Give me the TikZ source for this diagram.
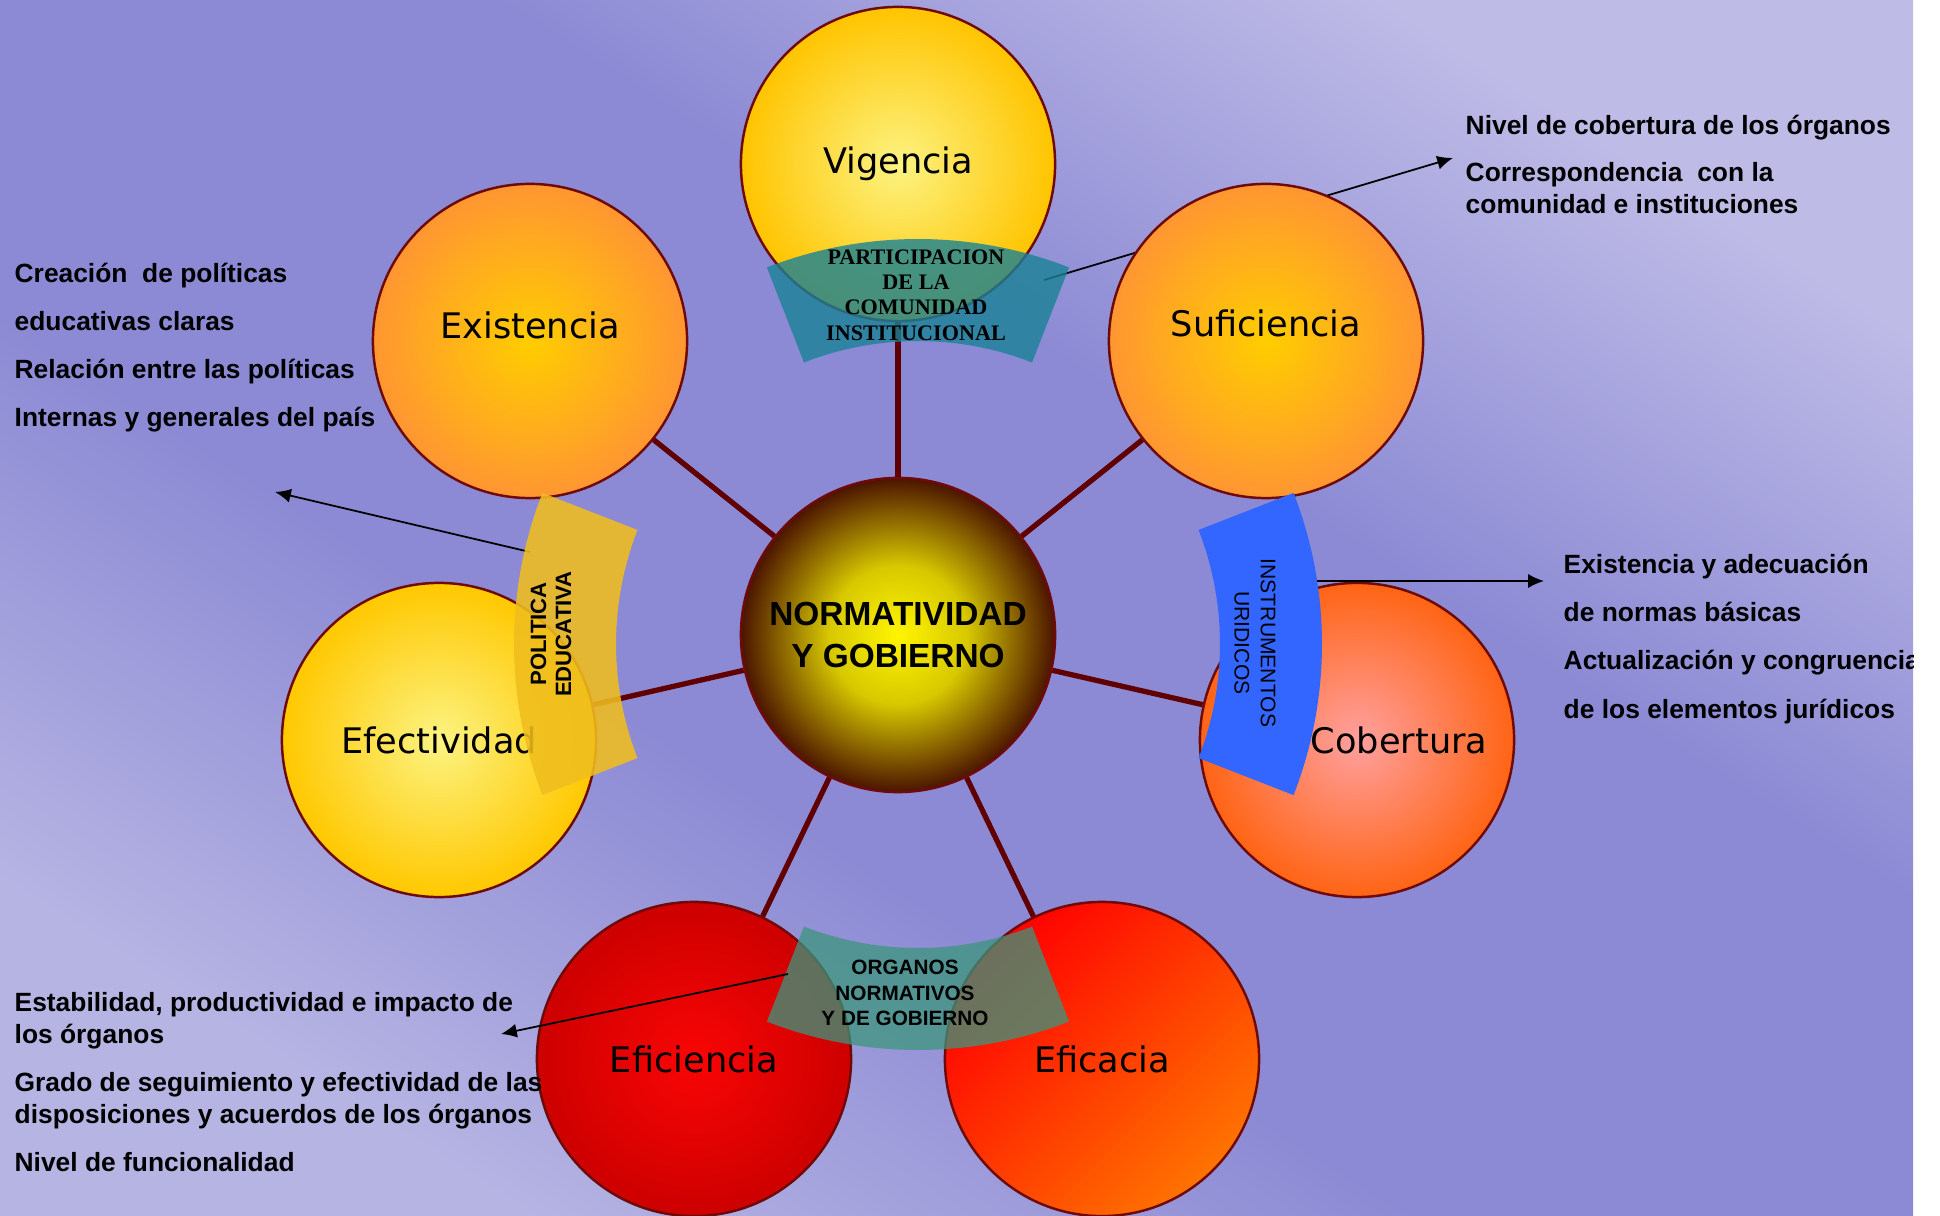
\documentclass[tikz,border=0pt]{standalone}
\usepackage{fontspec}
\setmainfont{Liberation Sans}
\newfontfamily\orbfont{DejaVu Sans}
\newfontfamily\bookfont{Liberation Serif}
\usetikzlibrary{arrows.meta}

\definecolor{slidelight}{RGB}{190,187,231}
\definecolor{slidelow}{RGB}{182,180,227}
\definecolor{slidedark}{RGB}{140,138,212}
\definecolor{spokered}{RGB}{96,0,0}
\definecolor{rim}{RGB}{110,10,10}
\definecolor{tealband}{RGB}{25,130,150}
\definecolor{seaband}{RGB}{60,150,125}
\definecolor{goldband}{RGB}{240,190,30}
\definecolor{blueband}{RGB}{51,102,255}
\definecolor{coreIn}{RGB}{255,245,0}
\definecolor{coreMid}{RGB}{215,200,0}
\definecolor{coreOut}{RGB}{75,20,0}

\pgfdeclareradialshading{corefill}{\pgfpointorigin}{color(0bp)=(coreIn); color(11bp)=(coreMid); color(25bp)=(coreOut); color(50bp)=(coreOut)}
\pgfdeclareverticalshading{slidefill}{100bp}{color(0bp)=(slidelow); color(25bp)=(slidelow); color(41bp)=(slidedark); color(59bp)=(slidedark); color(75bp)=(slidelight); color(100bp)=(slidelight)}

\tikzset{>={Latex[length=4.5pt,width=4pt]}}
\tikzset{
  orb/.style={circle, draw=rim, line width=0.7pt, minimum size=3.14cm, inner sep=0pt, shading=radial},
  orbtxt/.style={font=\orbfont\fontsize{10}{12}\selectfont},
  link/.style={draw=spokered, line width=1.5pt},
  note/.style={font=\bfseries\fontsize{7.5}{9.1}\selectfont, align=left, anchor=base west, inner sep=0pt},
  pointer/.style={->, line width=0.5pt},
  bandtxt/.style={align=center, inner sep=0pt}
}

% block arc around a centre: #1 centre, #2/#3 angles, #4 fill
\newcommand\blockarc[4]{%
  \fill[#4] ([shift={(#2:416)}]#1) arc[start angle=#2, end angle=#3, radius=416]
    -- ([shift={(#3:314)}]#1) arc[start angle=#3, end angle=#2, radius=314] -- cycle;}

\begin{document}
\begin{tikzpicture}[x=0.01cm, y=-0.01cm]
\useasboundingbox (0,0) rectangle (1940,1216);
\fill[white] (0,0) rectangle (1940,1216);
\begin{scope}
\clip (0,0) rectangle (1913,1216);
\shade[shading=slidefill, shading angle=-32.4] (0,0) rectangle (1913,1216);

% pointers that run below the shapes
\coordinate (partFrom) at (1044,280);
\coordinate (partTo) at (1453,158);
\coordinate (polFrom) at (530,552);
\coordinate (polTo) at (275,492);
\draw[pointer] (partFrom) -- (partTo);
\draw[pointer] (polFrom) -- (polTo);

% the seven criteria
\node[orb, inner color={rgb,255:red,252;green,243;blue,130}, outer color={rgb,255:red,255;green,196;blue,0}] (vig) at (898,164) {};
\node[orb, inner color={rgb,255:red,255;green,205;blue,0}, outer color={rgb,255:red,255;green,150;blue,50}] (exi) at (530,341) {};
\node[orb, inner color={rgb,255:red,255;green,205;blue,0}, outer color={rgb,255:red,255;green,150;blue,50}] (suf) at (1266,341) {};
\node[orb, inner color={rgb,255:red,252;green,243;blue,130}, outer color={rgb,255:red,255;green,200;blue,0}] (efe) at (439,740) {};
\node[orb, inner color={rgb,255:red,255;green,160;blue,160}, outer color={rgb,255:red,255;green,100;blue,20}] (cob) at (1357,740) {};
\node[orb, inner color={rgb,255:red,250;green,5;blue,5}, outer color={rgb,255:red,205;green,0;blue,0}] (efi) at (694,1059) {};
\node[orb, top color={rgb,255:red,255;green,0;blue,0}, bottom color={rgb,255:red,255;green,115;blue,0}, shading angle=45] (efa) at (1102,1059) {};

\node[orb, shading=corefill, font=\bfseries\fontsize{9.5}{11.9}\selectfont, align=center] (core) at (898,635) {NORMATIVIDAD\\Y GOBIERNO};

\foreach \o in {vig,exi,suf,efe,cob,efi,efa}
  \draw[link] (core) -- (\o);

\node[orbtxt] at (vig) {Vigencia};
\node[orbtxt] at ([yshift=0.16cm]exi.center) {Existencia};
\node[orbtxt] at ([yshift=0.18cm]suf.center) {Suficiencia};
\node[orbtxt] at (efe) {Efectividad};
\node[orbtxt] at ([xshift=0.42cm]cob.center) {Cobertura};
\node[orbtxt] at (efi) {Eficiencia};
\node[orbtxt] at (efa) {Eficacia};

% bands
\coordinate (upc) at (918,655);
\coordinate (lfc) at (930,644);
\coordinate (rtc) at (906,644);
\coordinate (dnc) at (918,634);
\blockarc{upc}{-111.3}{-68.7}{tealband, opacity=0.8}
\blockarc{lfc}{158.7}{201.3}{goldband, opacity=0.88}
\blockarc{rtc}{-21.3}{21.3}{blueband}
\blockarc{dnc}{68.7}{111.3}{seaband, opacity=0.75}

\node[bandtxt, font=\bookfont\bfseries\fontsize{6.3}{7.2}\selectfont] (part) at (916,295) {PARTICIPACION\\DE LA\\COMUNIDAD\\INSTITUCIONAL};
\node[bandtxt, font=\bfseries\fontsize{6.3}{7.1}\selectfont, rotate=90] (pol) at (551,634) {POLITICA\\EDUCATIVA};
\node[bandtxt, font=\fontsize{6}{7.4}\selectfont, rotate=-90] (inst) at (1255,643) {INSTRUMENTOS\\URIDICOS};
\node[bandtxt, font=\bfseries\fontsize{5.9}{7.2}\selectfont] (org) at (905,993) {ORGANOS\\NORMATIVOS\\Y DE GOBIERNO};

% pointers on top
\coordinate (cobFrom) at (1317,581);
\coordinate (cobTo) at (1544,581);
\coordinate (orgFrom) at (788,974);
\coordinate (orgTo) at (501,1034);
\draw[pointer] (cobFrom) -- (cobTo);
\draw[pointer] (orgFrom) -- (orgTo);

% notes (anchored on the baseline of their last line)
\node[note, font=\bfseries\fontsize{7.5}{13.7}\selectfont] (polnote) at (14,427)
  {Creación\ \ de políticas\\educativas claras\\Relación entre las políticas\\Internas y generales del país};
\node[note] (partnote) at (1465,214)
  {Nivel de cobertura de los órganos\\[4.5pt]Correspondencia\ \ con la\\comunidad e instituciones};
\node[note, font=\bfseries\fontsize{7.5}{13.7}\selectfont] (instnote) at (1563,718)
  {Existencia y adecuación\\de normas básicas\\Actualización y congruencia\\de los elementos jurídicos};
\node[note] (orgnote) at (14,1171)
  {Estabilidad, productividad e impacto de\\los órganos\\[4.5pt]Grado de seguimiento y efectividad de las\\disposiciones y acuerdos de los órganos\\[4.5pt]Nivel de funcionalidad};
\end{scope}
\end{tikzpicture}
\end{document}
